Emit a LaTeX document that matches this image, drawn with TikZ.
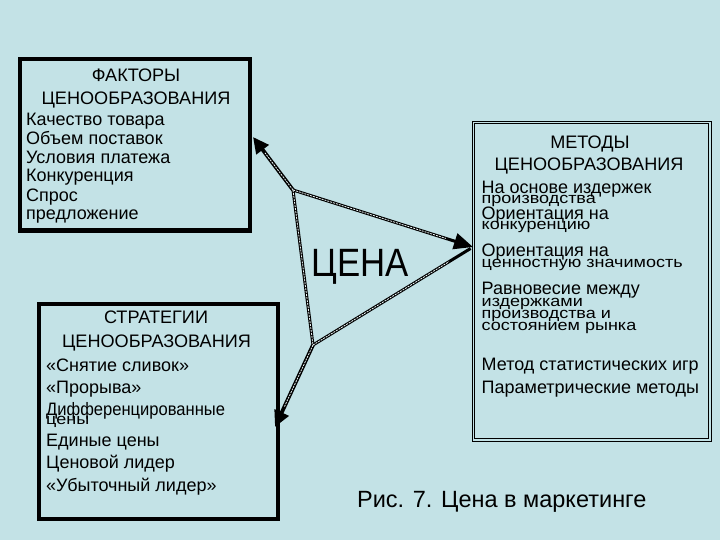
\documentclass[tikz,border=0pt]{standalone}
\usepackage{fontspec}
\setmainfont{Liberation Sans}
\usetikzlibrary{arrows.meta,calc}
\definecolor{bg}{RGB}{195,226,230}
\definecolor{core}{RGB}{235,245,246}
\newcommand{\squash}[1]{\scalebox{1}[0.85]{#1}}
\tikzset{
  box/.style={draw=black, line width=4pt, fill=bg},
  dbox/.style={draw=black, line width=1.3pt, double=bg, double distance=1.2pt, fill=bg},
  txt/.style={inner sep=0pt, anchor=base west, font=\fontsize{18}{19}\selectfont},
  ttl/.style={inner sep=0pt, anchor=base, font=\fontsize{18.1}{19}\selectfont},
  thickarrow/.style={draw=black, line width=3.8pt, -{Triangle[length=16pt,width=15pt]}},
  midarrow/.style={draw=black, line width=3pt, -{Triangle[length=19pt,width=16pt]}},
  plainline/.style={draw=black, line width=3pt},
  coreline/.style={draw=core, line width=0.8pt, dash pattern=on 2pt off 1pt},
}
\begin{document}
\begin{tikzpicture}[x=1pt,y=-1pt]
\fill[bg] (0,0) rectangle (720,540);
\useasboundingbox (0,0) rectangle (720,540);

% boxes
\draw[box] (20,59.5) rectangle (250,230.5);
\draw[box] (39,304) rectangle (277.5,519);
\draw[dbox] (473.5,122.5) rectangle (710,440);

% box 1 text
\node[ttl] (f0) at (136,81.5) {ФАКТОРЫ};
\node[ttl] (f1) at (136,105) {ЦЕНООБРАЗОВАНИЯ};
\node[txt] (f2) at (26,126) {Качество товара};
\node[txt] (f3) at (26,144.5) {Объем поставок};
\node[txt] (f4) at (26,164) {Условия платежа};
\node[txt] (f5) at (26,182) {Конкуренция};
\node[txt] (f6) at (26,201.5) {Спрос};
\node[txt] (f7) at (26,220) {предложение};

% box 2 text
\node[ttl] (m0) at (590,149) {МЕТОДЫ};
\node[ttl] (m1) at (589,171) {ЦЕНООБРАЗОВАНИЯ};
\node[txt] (m2) at (481.5,193.3) {На основе издержек};
\node[txt] (m3) at (481.5,204) {\squash{производства}};
\node[txt] (m4) at (481.5,220) {Ориентация на};
\node[txt] (m5) at (481.5,229.8) {\squash{конкуренцию}};
\node[txt] (m6) at (481.5,256.7) {Ориентация на};
\node[txt] (m7) at (481.5,267.2) {\squash{ценностную значимость}};
\node[txt] (m8) at (481.5,294.3) {Равновесие между};
\node[txt] (m9) at (481.5,306.7) {\squash{издержками}};
\node[txt] (m10) at (481.5,318.5) {\squash{производства и}};
\node[txt] (m11) at (481.5,330.3) {\squash{состоянием рынка}};
\node[txt] (m12) at (481.5,370.7) {Метод статистических игр};
\node[txt] (m13) at (481.5,393.3) {Параметрические методы};

% box 3 text
\node[ttl] (s0) at (156,323.3) {СТРАТЕГИИ};
\node[ttl] (s1) at (156.5,347.3) {ЦЕНООБРАЗОВАНИЯ};
\node[txt] (s2) at (46,371.7) {«Снятие сливок»};
\node[txt] (s3) at (46,393.3) {«Прорыва»};
\node[txt] (s4) at (46,415) {\scalebox{0.92}[1]{Дифференцированные}};
\node[txt] (s5) at (46,424.5) {\squash{цены}};
\node[txt] (s6) at (46,446.7) {Единые цены};
\node[txt] (s7) at (46,468.3) {Ценовой лидер};
\node[txt] (s8) at (46,491.7) {«Убыточный лидер»};

% center label
\node[inner sep=0pt, anchor=base] (price) at (360,276.7)
  {\fontsize{39.5}{40}\selectfont\scalebox{0.88}[1]{ЦЕНА}};

% caption
\node[inner sep=0pt, anchor=base] (cap) at (501.7,507.7)
  {\fontsize{23.5}{26}\selectfont Рис. 7. Цена в маркетинге};

% connectors
\coordinate (A) at (293,190);
\coordinate (B) at (313,345);
\coordinate (T) at (473,247);
\coordinate (P1) at (253,137);
\coordinate (P3) at (275,427);

\draw[plainline] (A) -- (B);
\draw[plainline] (B) -- ($(B)!0.985!(T)$);
\draw[midarrow] (A) -- (T);
\draw[thickarrow] (A) -- (P1);
\draw[thickarrow] (B) -- (P3);
\draw[coreline] (A) -- (B);
\draw[coreline] (A) -- ($(A)!0.85!(T)$);
\draw[coreline] (B) -- ($(B)!0.85!(T)$);
\draw[coreline] (A) -- ($(A)!0.7!(P1)$);
\draw[coreline] (B) -- ($(B)!0.75!(P3)$);
\end{tikzpicture}
\end{document}
